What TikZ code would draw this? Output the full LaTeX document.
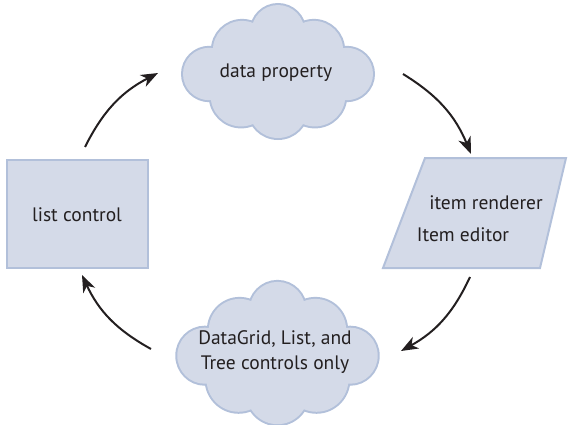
\documentclass[tikz,border=0pt]{standalone}
\usepackage{fontspec}
\setmainfont{PT Sans}
\usetikzlibrary{arrows.meta}
\definecolor{shapefill}{HTML}{D4DAE8}
\definecolor{shapeline}{HTML}{B2C0DA}
\definecolor{ink}{HTML}{231F20}
\begin{document}
\begin{tikzpicture}[x=1pt,y=1pt,
  shapebox/.style={fill=shapefill,draw=shapeline,line width=2pt},
  label/.style={font=\fontsize{19.5}{25}\selectfont,text=ink,inner sep=0pt,align=center},
  flow/.style={draw=ink,line width=2pt,-{Stealth[length=17pt,width=13pt,inset=5pt]}},
  puffcloud/.pic={
    \draw[shapeline,line width=4pt]
      (0,39.6) circle (26.4) (-35.9,20.9) circle (29.2) (35.9,20.9) circle (29.2)
      (-68.8,-3) circle (26.2) (68.8,-3) circle (26.2)
      (-36.9,-25) circle (30.4) (36.9,-25) circle (30.4) (0,-37.7) circle (29.3);
    \fill[shapefill]
      (0,39.6) circle (26.4) (-35.9,20.9) circle (29.2) (35.9,20.9) circle (29.2)
      (-68.8,-3) circle (26.2) (68.8,-3) circle (26.2)
      (-36.9,-25) circle (30.4) (36.9,-25) circle (30.4) (0,-37.7) circle (29.3);
    \fill[shapefill] (-25,48) -- (-65,23) -- (-67,-29) -- (-25,-53) -- (25,-53)
      -- (67,-29) -- (65,23) -- (25,48) -- cycle;
  }]
\useasboundingbox (0,0) rectangle (568,424);
% clouds
\pic[xscale=1.0,yscale=1.0] at (278,353) {puffcloud};
\node[label] (toptext) at (276,351) {data property};
\pic[xscale=1.055,yscale=1.07] at (277.5,71.5) {puffcloud};
\node[label] (bottext) at (275,72) {DataGrid, List, and\\Tree controls only};
% list control
\node[shapebox,minimum width=141pt,minimum height=108pt,inner sep=0pt] (listbox) at (77.5,210) {};
\node[label] (listtext) at (77,209) {list control};
% item renderer / editor
\draw[shapebox] (383,156) -- (425,266) -- (566,266) -- (540,156) -- cycle;
\node[label] (rendtext) at (486,221) {item renderer};
\node[label] (edittext) at (463,189) {Item editor};
% connector ends
\coordinate (a1) at (85,277);
\coordinate (b1) at (158,351);
\coordinate (a2) at (403,350);
\coordinate (b2) at (471,270);
\coordinate (a3) at (470,147);
\coordinate (b3) at (401,73);
\coordinate (a4) at (151,75);
\coordinate (b4) at (82,149);
\draw[flow] (a1) to[bend left=18] (b1);
\draw[flow] (a2) to[bend left=18] (b2);
\draw[flow] (a3) to[bend left=18] (b3);
\draw[flow] (a4) to[bend left=18] (b4);
\end{tikzpicture}
\end{document}
